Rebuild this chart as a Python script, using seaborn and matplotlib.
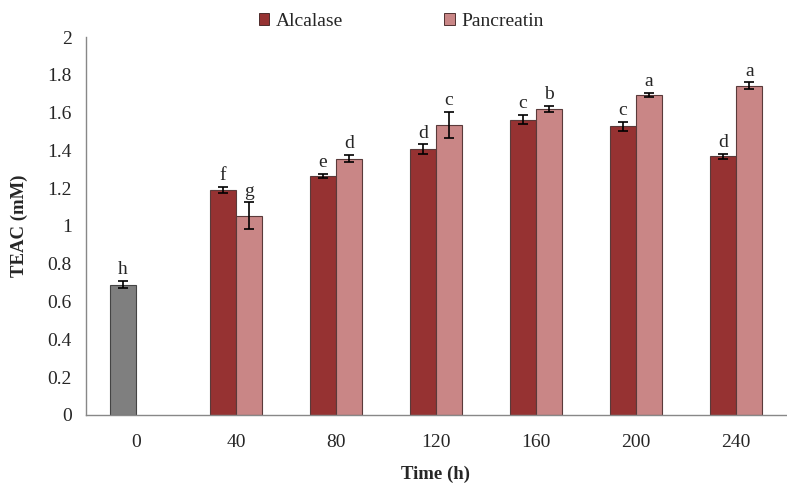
import numpy as np
import pandas as pd
import matplotlib
matplotlib.use("Agg")
import matplotlib.pyplot as plt
import seaborn as sns
from matplotlib.patches import Patch

## chart data
times = ["0", "40", "80", "120", "160", "200", "240"]
alcalase = [0.69, 1.19, 1.265, 1.407, 1.563, 1.527, 1.37]
alcalase_sd = [0.017, 0.015, 0.012, 0.025, 0.025, 0.025, 0.013]
alcalase_sig = ["h", "f", "e", "d", "c", "c", "d"]
pancreatin = [np.nan, 1.055, 1.356, 1.533, 1.618, 1.695, 1.742]
pancreatin_sd = [np.nan, 0.07, 0.02, 0.07, 0.017, 0.01, 0.018]
pancreatin_sig = ["", "g", "d", "c", "b", "a", "a"]

series = ["Alcalase", "Pancreatin"]
colors = {"Alcalase": "#963232", "Pancreatin": "#C98686"}
control_color = "#7F7F7F"

df = pd.DataFrame({
	"Time": times * 2,
	"TEAC": alcalase + pancreatin,
	"Enzyme": ["Alcalase"] * len(times) + ["Pancreatin"] * len(times),
})
sd = {"Alcalase": alcalase_sd, "Pancreatin": pancreatin_sd}
sig = {"Alcalase": alcalase_sig, "Pancreatin": pancreatin_sig}

sns.set_style("white")
plt.rcParams['font.family'] = ['Liberation Serif', 'DejaVu Serif']

fig = plt.figure(figsize=(7.87, 4.87), dpi=100)
ax = fig.add_axes([0.109, 0.148, 0.89, 0.776])

sns.barplot(data=df.dropna(), x="Time", y="TEAC", hue="Enzyme", order=times,
			hue_order=series, palette=colors, saturation=1, width=0.52, gap=0,
			errorbar=None, edgecolor="#5a3a3a", linewidth=0.8, legend=False, ax=ax)

## error bars + significance letters
for name, cont in zip(series, ax.containers):
	for bar in cont:
		xc = bar.get_x() + bar.get_width() / 2
		h = bar.get_height()
		g = int(round(xc))
		if g == 0:
			bar.set_facecolor(control_color)
			bar.set_edgecolor("#444444")
		e = sd[name][g]
		ax.errorbar(xc, h, yerr=e, fmt="none", ecolor="black", elinewidth=1.2,
					capsize=3.5, capthick=1.2)
		ax.text(xc, h + e + 0.015, sig[name][g], ha="center", va="bottom", fontsize=14)

ax.set_ylim(0, 2)
ax.set_xlim(-0.5, 6.5)
ax.set_yticks(np.arange(0, 2.01, 0.2))
ax.set_yticklabels(["0", "0.2", "0.4", "0.6", "0.8", "1", "1.2", "1.4", "1.6", "1.8", "2"])
ax.set_xticks(np.arange(-0.5, 7, 1), minor=True)
ax.tick_params(axis="x", which="major", length=0, labelsize=14, pad=14)
ax.tick_params(axis="x", which="minor", length=6, width=1, color="#888888", direction="out")
ax.tick_params(axis="y", length=6, width=1, color="#888888", direction="out", labelsize=14, pad=4)

sns.despine(ax=ax)
for s in ["left", "bottom"]:
	ax.spines[s].set_color("#888888")
	ax.spines[s].set_linewidth(1)

ax.set_xlabel("Time (h)", fontsize=13.5, fontweight="bold", labelpad=10)
ax.set_ylabel("TEAC (mM)", fontsize=13.5, fontweight="bold", labelpad=14)

handles = [Patch(facecolor=colors[s], edgecolor="#3a1a1a", linewidth=0.6) for s in series]
fig.legend(handles, series, loc="upper center", bbox_to_anchor=(0.51, 1.01), ncol=2,
		   frameon=False, fontsize=14, handlelength=0.55, handleheight=0.55,
		   handletextpad=0.35, columnspacing=5.2)

fig.savefig("out.png", dpi=100)
